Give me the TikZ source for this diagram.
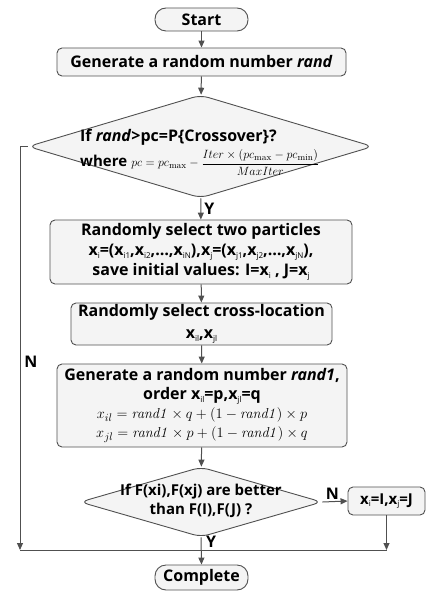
\documentclass[tikz,border=0pt]{standalone}
\usepackage[no-math]{fontspec}
\setmainfont{Open Sans}
\usetikzlibrary{shapes.geometric,arrows.meta}
\definecolor{ln}{HTML}{505050}
\definecolor{bx}{HTML}{F4F4F4}
\newcommand\sbs[1]{\raisebox{-0.3ex}{\fontsize{8}{8}\selectfont\mdseries #1}}
\begin{document}
\begin{tikzpicture}[x=1pt,y=-1pt,
  box/.style={draw=ln, fill=bx, rounded corners=5pt, line width=0.9pt, align=center,
    font=\bfseries\fontsize{16}{20}\selectfont, inner sep=0pt},
  term/.style={box, rounded corners=11pt},
  dia/.style={draw=ln, fill=bx, diamond, line width=0.9pt, rounded corners=8pt, inner sep=0pt},
  arr/.style={draw=ln, line width=1pt, -{Triangle[length=7pt,width=6pt]}},
  ln/.style={draw=ln, line width=1pt},
  lab/.style={font=\bfseries\fontsize{16}{19}\selectfont, inner sep=0pt, align=center}]
\useasboundingbox (0,0) rectangle (426,593);
\node[term, minimum width=93pt, minimum height=23pt] (start) at (201.5,19.5) {Start};
\node[box, minimum width=289pt, minimum height=28pt] (gen) at (201.5,62) {Generate a random number \textit{rand}};
\node[dia, minimum width=345pt, minimum height=103pt] (d1) at (200.5,146.5) {};
\node[lab, align=left, anchor=west] (d1t) at (80,152) {If \textit{rand}>pc=P\{Crossover\}?\\[4pt]
{\fontsize{15}{17}\selectfont where} {\fontsize{13}{15}\selectfont$\displaystyle pc = pc_{\max}-\frac{Iter\times(pc_{\max}-pc_{\min})}{MaxIter}$}};
\node[box, minimum width=302pt, minimum height=64pt] (b2) at (201,252) {Randomly select two particles\\
x\sbs{i}=(x\sbs{i1},x\sbs{i2},\dots,x\sbs{iN}),x\sbs{j}=(x\sbs{j1},x\sbs{j2},\dots,x\sbs{jN}),\\
save initial values: I=x\sbs{i} , J=x\sbs{j}};
\node[box, minimum width=261pt, minimum height=42pt, font=\bfseries\fontsize{16}{22}\selectfont] (b3) at (201.5,324) {Randomly select cross-location\\ x\sbs{il},x\sbs{jl}};
\node[box, minimum width=290pt, minimum height=83pt, font=\bfseries\fontsize{16}{19}\selectfont] (b4) at (202,405.5) {Generate a random number \textit{rand1},\\
order x\sbs{il}=p,x\sbs{jl}=q\\
{\fontsize{15}{18}\selectfont$x_{il}=\mathit{rand1}\times q+\bigl(1-\mathit{rand1}\bigr)\times p$}\\
{\fontsize{15}{18}\selectfont$x_{jl}=\mathit{rand1}\times p+\bigl(1-\mathit{rand1}\bigr)\times q$}};
\node[dia, minimum width=242pt, minimum height=70pt] (d2) at (201,502) {};
\node[lab, font=\bfseries\fontsize{15}{19}\selectfont] (d2t) at (201,501) {If F(xi),F(xj) are better\\ than F(I),F(J) ?};
\node[box, minimum width=77pt, minimum height=28pt, font=\bfseries\fontsize{15}{18}\selectfont] (b5) at (386.5,501) {x\sbs{i}=I,x\sbs{j}=J};
\node[term, minimum width=93pt, minimum height=25pt] (done) at (201.5,577.5) {Complete};
\coordinate (bl) at (20,550);
\coordinate (br) at (386.5,550);
\draw[arr] (start) -- (gen);
\draw[arr] (gen) -- (d1);
\draw[arr] (d1) -- (b2) node[lab, pos=0.5, right=3pt] (y1) {Y};
\draw[arr] (b2) -- (b3);
\draw[arr] (b3) -- (b4);
\draw[arr] (b4) -- (d2);
\draw[arr] (d2.east) -- (b5.west) node[lab, pos=0.4, above=2pt] (n2) {N};
\draw[arr] (d1.west) -| (bl);
\node[lab] (n1) at (31,362) {N};
\draw[arr] (b5) -- (br);
\draw[ln] (bl) -- (br);
\draw[arr] (d2.south) -- (done.north);
\node[lab] (y2) at (211,542) {Y};
\end{tikzpicture}
\end{document}
